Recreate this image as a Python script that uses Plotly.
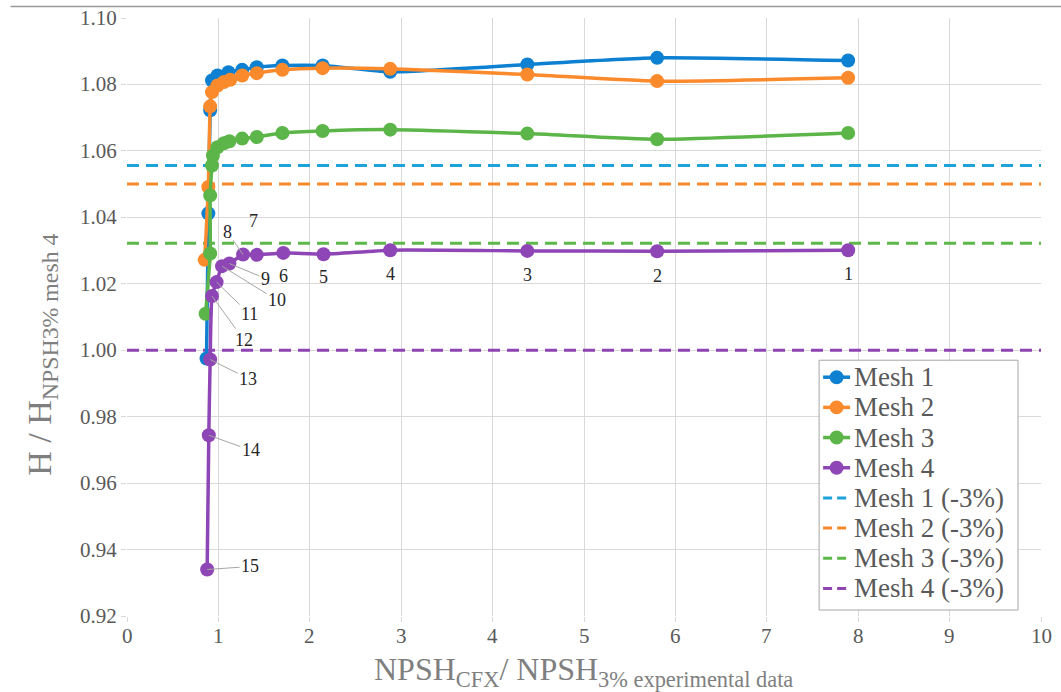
import plotly.graph_objects as go

# ---------------- data ----------------
mesh1_x = [7.89, 5.80, 4.38, 2.88, 2.14, 1.70, 1.42, 1.26, 1.11, 0.99, 0.93, 0.91, 0.89, 0.87]
mesh1_y = [1.0872, 1.0880, 1.0860, 1.0838, 1.0857, 1.0857, 1.0852, 1.0844, 1.0837, 1.0827, 1.0812, 1.0722, 1.0412, 0.9975]

mesh2_x = [7.89, 5.80, 4.38, 2.88, 2.14, 1.70, 1.42, 1.26, 1.13, 1.06, 0.99, 0.93, 0.91, 0.89, 0.85]
mesh2_y = [1.0820, 1.0810, 1.0830, 1.0847, 1.0849, 1.0844, 1.0834, 1.0827, 1.0814, 1.0807, 1.0797, 1.0777, 1.0734, 1.0491, 1.0272]

mesh3_x = [7.89, 5.80, 4.38, 2.88, 2.14, 1.70, 1.42, 1.26, 1.12, 1.06, 0.99, 0.94, 0.93, 0.91, 0.91, 0.86]
mesh3_y = [1.0654, 1.0635, 1.0652, 1.0664, 1.0660, 1.0654, 1.0642, 1.0637, 1.0629, 1.0623, 1.0611, 1.0586, 1.0556, 1.0466, 1.0291, 1.0110]

mesh4_x = [7.89, 5.80, 4.38, 2.88, 2.15, 1.71, 1.42, 1.27, 1.12, 1.04, 0.98, 0.93, 0.91, 0.895, 0.877]
mesh4_y = [1.0301, 1.0298, 1.0299, 1.0301, 1.0289, 1.0293, 1.0287, 1.0288, 1.0261, 1.0253, 1.0205, 1.0163, 0.9972, 0.9744, 0.9340]
mesh4_labels = [str(i) for i in range(1, 16)]

mesh_names = ["Mesh 1", "Mesh 2", "Mesh 3", "Mesh 4"]
limit_names = ["Mesh 1 (-3%)", "Mesh 2 (-3%)", "Mesh 3 (-3%)", "Mesh 4 (-3%)"]
limit_y = [1.0556, 1.0500, 1.0322, 1.0000]
limit_x = [0, 10]

x_ticks = list(range(0, 11))
y_ticks = [0.92, 0.94, 0.96, 0.98, 1.00, 1.02, 1.04, 1.06, 1.08, 1.10]

x_title = "NPSH<sub>CFX</sub>/ NPSH<sub>3% experimental data</sub>"
y_title = "H / H<sub>NPSH3% mesh 4</sub>"

# ---------------- styles ----------------
mesh_colors = ["#0d80d2", "#fb8a2c", "#5cb548", "#8e45b5"]
limit_colors = ["#1ea2dc", "#f6892b", "#5db84a", "#8e44b2"]
# label offsets (pixels) for mesh 4 point numbers: (ax, ay, arrow)
label_offsets = [(0, 24, False), (0, 25, False), (0, 24, False), (0, 24, False),
                 (0, 23, False), (0, 23, False), (-3, -34, False), (-16, -23, True),
                 (36, 15, True), (55, 34, True), (33, 32, True), (32, 44, True),
                 (38, 19, True), (42, 15, True), (43, -3, True)]

serif = "Liberation Serif"
W, H = 1061, 692
PL, PR, PT, PB = 126.5, 1041.0, 17.5, 616.0  # plot area in pixels


def px(xpix):
    return (xpix - PL) / (PR - PL)


def py(ypix):
    return (PB - ypix) / (PB - PT)


def sfont(size, color, family=serif):
    return dict(family=family, size=size, color=color)


fig = go.Figure()

for name, yv, col in zip(limit_names, limit_y, limit_colors):
    fig.add_trace(go.Scatter(
        x=limit_x, y=[yv, yv], mode="lines", name=name,
        line=dict(color=col, width=3, dash="12px,7px"),
    ))

for name, xs, ys, col in zip(mesh_names, [mesh1_x, mesh2_x, mesh3_x, mesh4_x],
                             [mesh1_y, mesh2_y, mesh3_y, mesh4_y], mesh_colors):
    fig.add_trace(go.Scatter(
        x=xs, y=ys, mode="lines+markers", name=name,
        line=dict(color=col, width=3.5, shape="spline", smoothing=0.5),
        marker=dict(color=col, size=14),
    ))

# point number labels for mesh 4
for xv, yv, lab, (ax, ay, arrow) in zip(mesh4_x, mesh4_y, mesh4_labels, label_offsets):
    if arrow:
        fig.add_annotation(x=xv, y=yv, text=lab, showarrow=True, ax=ax, ay=ay,
                           arrowhead=0, arrowwidth=1, arrowcolor="#a6a6a6",
                           font=sfont(18, "#262626"))
    else:
        fig.add_annotation(x=xv, y=yv, text=lab, showarrow=False, xshift=ax, yshift=-ay,
                           font=sfont(18, "#262626"))

# tick labels as annotations on the axes' own scales
for v in y_ticks:
    fig.add_annotation(xref="paper", x=0, yref="y", y=v, text="%.2f" % v, showarrow=False,
                       xanchor="right", xshift=-8, font=sfont(21, "#595959"))
for v in x_ticks:
    fig.add_annotation(xref="x", x=v, yref="paper", y=0, text=str(v), showarrow=False,
                       yanchor="top", yshift=-6, font=sfont(21, "#595959"))

# axis titles
fig.add_annotation(xref="paper", yref="paper", x=px(583), y=py(672), text=x_title,
                   showarrow=False, xanchor="center", yanchor="middle", font=sfont(32, "#7f7f7f"))
fig.add_annotation(xref="paper", yref="paper", x=px(42), y=py(355), text=y_title, textangle=-90,
                   showarrow=False, xanchor="center", yanchor="middle", font=sfont(34, "#7f7f7f"))

# legend
LEG_L, LEG_R, LEG_T, LEG_B = 819, 1018, 360, 610
row_y0, row_dy = 377, 30.2
fig.add_shape(type="rect", xref="paper", yref="paper", x0=px(LEG_L), x1=px(LEG_R),
              y0=py(LEG_B), y1=py(LEG_T), line=dict(color="#a6a6a6", width=1), fillcolor="white",
              layer="above")
legend_entries = ([(n, c, True) for n, c in zip(mesh_names, mesh_colors)] +
                  [(n, c, False) for n, c in zip(limit_names, limit_colors)])
for i, (name, col, is_mesh) in enumerate(legend_entries):
    ry = row_y0 + i * row_dy
    fig.add_shape(type="line", xref="paper", yref="paper", x0=px(823), x1=px(850),
                  y0=py(ry), y1=py(ry), layer="above",
                  line=dict(color=col, width=3.5 if is_mesh else 3, dash="solid" if is_mesh else "9px,5px"))
    if is_mesh:
        fig.add_shape(type="circle", xref="paper", yref="paper", x0=px(836.5 - 7), x1=px(836.5 + 7),
                      y0=py(ry + 7), y1=py(ry - 7), fillcolor=col, line=dict(color=col, width=0),
                      layer="above")
    fig.add_annotation(xref="paper", yref="paper", x=px(852), y=py(ry), text=name, showarrow=False,
                       xanchor="left", yanchor="middle", font=sfont(27, "#595959"))

# top page line
fig.add_shape(type="line", xref="paper", yref="paper", x0=px(10), x1=px(1065), y0=py(6), y1=py(6),
              line=dict(color="#9a9a9a", width=1.5))

fig.update_layout(
    width=W, height=H,
    margin=dict(l=PL, r=W - PR, t=PT, b=H - PB),
    paper_bgcolor="white", plot_bgcolor="white",
    font=sfont(18, "#595959"),
    showlegend=False,
    xaxis=dict(range=[0, 10], tickvals=x_ticks, showticklabels=False,
               showgrid=True, gridcolor="#d9d9d9", gridwidth=1, zeroline=False,
               showline=False, ticks="outside", ticklen=5, tickcolor="#d9d9d9"),
    yaxis=dict(range=[0.92, 1.10], tickvals=y_ticks, showticklabels=False,
               showgrid=True, gridcolor="#d9d9d9", gridwidth=1, zeroline=False,
               showline=False, ticks="outside", ticklen=5, tickcolor="#d9d9d9"),
)

fig.write_html("out.html")
